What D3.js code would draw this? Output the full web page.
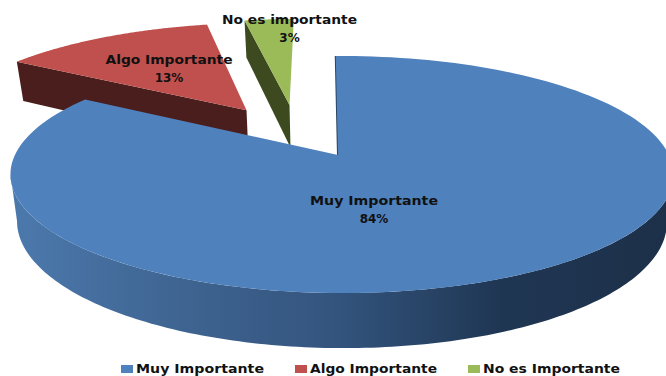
<!DOCTYPE html>
<html>
<head>
<meta charset="utf-8">
<script src="https://cdn.jsdelivr.net/npm/d3@7/dist/d3.min.js"></script>
<style>
  html, body { margin: 0; padding: 0; background: #fff; }
  svg { display: block; }
  text { font-family: "DejaVu Sans", sans-serif; font-weight: 700; fill: #111; }
</style>
</head>
<body>
<svg id="chart" width="666" height="376"></svg>
<script>
const categories = ["Muy Importante", "Algo Importante", "No es Importante"];
const sliceLabels = ["Muy Importante", "Algo Importante", "No es importante"];
const shares = [84, 13, 3];
const topColors = ["#4f81bd", "#c0504d", "#9bbb59"];
const wallColors = ["#355680", "#4a1e1c", "#3d4a20"];

// Projection of the tilted disc onto the page
const view = { cx: 338, cy: 155, rx: 327, ry: 115.3, tilt: 0.1646, skew: -0.012, depth: 46, taper: 0.02, rotation: -0.008 };
// In-plane displacement of each exploded slice, in disc radii
const explode = [[0, 0], [-0.30, -0.417], [-0.16, -0.469]];

const svg = d3.select("#chart");
const project = (x, y, lift = 0) => {
  const w = 1 - view.tilt * y + view.skew * x;
  return [
    view.cx + view.rx * x / w * (1 - view.taper * lift),
    view.cy + view.ry * y / w + lift * view.depth / w
  ];
};
const rim = (a, off, lift = 0) => project(Math.sin(a) + off[0], -Math.cos(a) + off[1], lift);
const line = d3.line();

const slices = d3.pie().sort(null).value(d => d)
  .startAngle(view.rotation).endAngle(view.rotation + 2 * Math.PI)(shares);
const samples = (a0, a1) => d3.range(0, 161).map(i => a0 + (a1 - a0) * i / 160);

const grad = svg.append("defs").append("linearGradient")
  .attr("id", "wallShade").attr("gradientUnits", "userSpaceOnUse")
  .attr("x1", 10).attr("x2", 666).attr("y1", 0).attr("y2", 0);
[[0, "#4c79ad"], [0.25, "#3f6592"], [0.5, "#33547d"], [0.75, "#1f3653"], [1, "#1d3049"]]
  .forEach(([o, c]) => grad.append("stop").attr("offset", o).attr("stop-color", c));

// Cut faces of the two exploded slices, drawn behind everything else
[1, 2].forEach(i => {
  const s = slices[i], off = explode[i];
  svg.append("path").attr("fill", wallColors[i])
    .attr("d", line([rim(s.startAngle, off), project(off[0], off[1]), project(off[0], off[1], 1), rim(s.startAngle, off, 1)]) + "Z");
});

// Top faces of the exploded slices
[1, 2].forEach(i => {
  const s = slices[i], off = explode[i];
  svg.append("path").attr("fill", topColors[i])
    .attr("d", line([project(off[0], off[1]), ...samples(s.startAngle, s.endAngle).map(a => rim(a, off))]) + "Z");
});

// Outer wall of the large slice, between the disc's two horizontal extremes
const big = slices[0];
const sideAngle = Math.acos(-view.tilt);
const wallAngles = samples(sideAngle, 2 * Math.PI - sideAngle);
svg.append("path").attr("fill", "url(#wallShade)")
  .attr("d", line([...wallAngles.map(a => rim(a, [0, 0])), ...wallAngles.slice().reverse().map(a => rim(a, [0, 0], 1))]) + "Z");

// Thin cut face along the start of the large slice
svg.append("path").attr("fill", "none").attr("stroke", "#2a4565").attr("stroke-width", 2)
  .attr("d", line([rim(big.startAngle, [0, 0]), project(0, 0)]));

// Top face of the large slice
svg.append("path").attr("fill", topColors[0])
  .attr("d", line([project(0, 0), ...samples(big.startAngle, big.endAngle).map(a => rim(a, [0, 0]))]) + "Z");

// Slice labels, stretched to the wide set of the chart's lettering
const labelAnchors = [[374, 205], [169, 64], [289.5, 24]];
const labelWidths = [128, 127, 135];
slices.forEach((s, i) => {
  const g = svg.append("g").attr("text-anchor", "middle").attr("font-size", 12);
  g.append("text").attr("x", labelAnchors[i][0]).attr("y", labelAnchors[i][1])
    .attr("textLength", labelWidths[i]).attr("lengthAdjust", "spacingAndGlyphs").text(sliceLabels[i]);
  g.append("text").attr("x", labelAnchors[i][0]).attr("y", labelAnchors[i][1] + 18).text(shares[i] + "%");
});

// Legend
const legendX = [121, 295, 468];
const legendWidths = [128, 127, 137];
categories.forEach((c, i) => {
  svg.append("rect").attr("x", legendX[i]).attr("y", 365).attr("width", 12).attr("height", 8).attr("fill", topColors[i]);
  svg.append("text").attr("x", legendX[i] + 15).attr("y", 373).attr("font-size", 12)
    .attr("textLength", legendWidths[i]).attr("lengthAdjust", "spacingAndGlyphs").text(c);
});
</script>
</body>
</html>
